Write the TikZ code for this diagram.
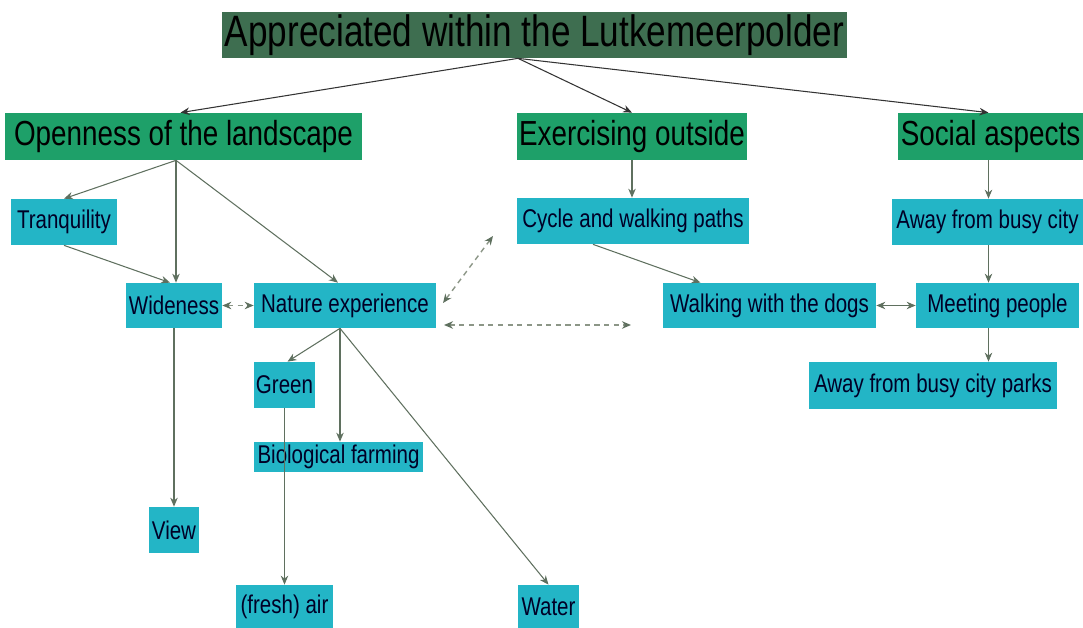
\documentclass[tikz,border=0pt]{standalone}
\usepackage{fontspec}
\setmainfont[FakeStretch=0.8]{Liberation Sans}
\usetikzlibrary{arrows.meta, calc}
\definecolor{topgreen}{RGB}{62,110,80}
\definecolor{catgreen}{RGB}{30,160,105}
\definecolor{itemcyan}{RGB}{35,181,198}
\definecolor{linkgray}{RGB}{95,112,95}
\definecolor{dashgray}{RGB}{140,150,135}
\newcommand{\linkTip}{{Stealth[length=1.8mm, width=1.5mm]}}

\begin{document}
\begin{tikzpicture}[x=0.02cm, y=-0.02cm,
	topbox/.style={fill=topgreen, inner sep=0pt, font=\fontsize{25}{26}\selectfont},
	catbox/.style={fill=catgreen, inner sep=0pt, font=\fontsize{19.8}{21}\selectfont},
	itembox/.style={fill=itemcyan, inner sep=0pt, text=black!85!blue, font=\fontsize{14.6}{16}\selectfont},
	toplink/.style={draw=black!80, semithick, -\linkTip},
	link/.style={draw=linkgray, semithick, -\linkTip},
	duallink/.style={draw=linkgray, semithick, \linkTip-\linkTip},
	dashlink/.style={draw=dashgray, thick, dash pattern=on 3pt off 2.5pt, {Stealth[length=1.8mm, width=1.5mm, color=linkgray]}-{Stealth[length=1.8mm, width=1.5mm, color=linkgray]}}]
	\def\pu{0.02cm}

	\useasboundingbox (0,0) rectangle (1083,628);

	% boxes
	\node[topbox, minimum width=625*\pu, minimum height=46*\pu] (title) at (534.5,35) {Appreciated within the Lutkemeerpolder};

	\node[catbox, minimum width=357*\pu, minimum height=47*\pu] (open) at (183.5,136.5) {Openness of the landscape};
	\node[catbox, minimum width=230*\pu, minimum height=47*\pu] (exer) at (632,136.5) {Exercising outside};
	\node[catbox, minimum width=185*\pu, minimum height=47*\pu] (social) at (990.5,136.5) {Social aspects};

	\node[itembox, minimum width=106*\pu, minimum height=46*\pu] (tranq) at (64,222) {Tranquility};
	\node[itembox, minimum width=232*\pu, minimum height=46*\pu] (cycle) at (633,221) {Cycle and walking paths};
	\node[itembox, minimum width=191*\pu, minimum height=46*\pu] (away) at (987.5,222) {Away from busy city};

	\node[itembox, minimum width=96*\pu, minimum height=45*\pu] (wide) at (174,305.5) {Wideness};
	\node[itembox, minimum width=182*\pu, minimum height=45*\pu] (nature) at (345,305.5) {Nature experience};
	\node[itembox, minimum width=213*\pu, minimum height=45*\pu] (dogs) at (769.5,305.5) {Walking with the dogs};
	\node[itembox, minimum width=163*\pu, minimum height=45*\pu] (meet) at (997.5,305.5) {Meeting people};

	\node[itembox, minimum width=61*\pu, minimum height=46*\pu] (green) at (284.5,385) {Green};
	\node[itembox, minimum width=248*\pu, minimum height=47*\pu] (parks) at (933,385.5) {Away from busy city parks};
	\node[itembox, minimum width=169*\pu, minimum height=30*\pu] (bio) at (338.5,457) {Biological farming};
	\node[itembox, minimum width=50*\pu, minimum height=46*\pu] (view) at (174,530) {View};
	\node[itembox, minimum width=97*\pu, minimum height=43*\pu] (air) at (284.5,606.5) {(fresh) air};
	\node[itembox, minimum width=61*\pu, minimum height=43*\pu] (water) at (548.5,606.5) {Water};

	% connectors
	\coordinate (tsrc) at ([xshift=-16.5*\pu]title.south);
	\draw[toplink]	(tsrc) -- ([xshift=-3*\pu]open.north);
	\draw[toplink]	(tsrc) -- (exer.north);
	\draw[toplink]	(tsrc) -- ([xshift=-2*\pu]social.north);

	\coordinate (osrc) at ([xshift=-7.5*\pu]open.south);
	\draw[link]	(osrc) -- (tranq.north);
	\draw[link]	(osrc) -- (osrc |- wide.north);
	\draw[link]	(osrc) -- ([xshift=-7*\pu]nature.north);
	\draw[link]	(tranq.south) -- ([xshift=-4*\pu]wide.north);
	\draw[dashlink]	(wide.east) -- (nature.west);
	\draw[link]	(wide.south) -- (view.north);

	\coordinate (nsrc) at ([xshift=-5*\pu]nature.south);
	\draw[link]	(nsrc) -- ([xshift=3*\pu]green.north);
	\draw[link]	(nsrc) -- (nsrc |- bio.north);
	\draw[link]	(nsrc) -- (water.north);
	\draw[link]	(green.south) -- (air.north);

	\coordinate (dA) at (443,303);
	\coordinate (dB) at (493,236);
	\coordinate (dC) at (444,325);
	\coordinate (dD) at (631,325);
	\draw[dashlink]	(dA) -- (dB);
	\draw[dashlink]	(dC) -- (dD);

	\draw[link]	(exer.south) -- (exer.south |- cycle.north);
	\draw[link]	([xshift=-40*\pu]cycle.south) -- ([xshift=-69*\pu]dogs.north);
	\draw[duallink]	(dogs.east) -- (meet.west);

	\coordinate (ssrc) at ([xshift=-2*\pu]social.south);
	\draw[link]	(ssrc) -- (ssrc |- away.north);
	\draw[link]	(ssrc |- away.south) -- (ssrc |- meet.north);
	\draw[link]	(ssrc |- meet.south) -- (ssrc |- parks.north);
\end{tikzpicture}
\end{document}
